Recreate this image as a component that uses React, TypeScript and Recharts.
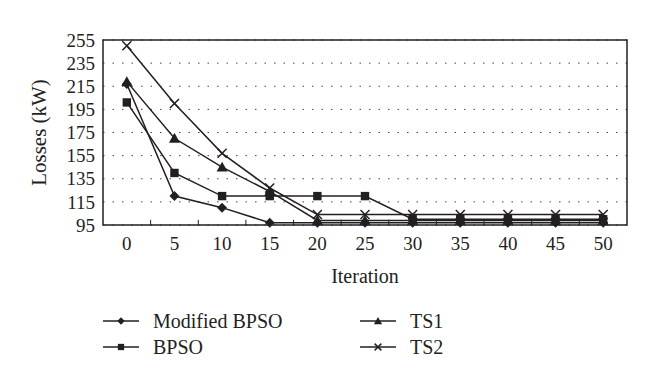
import React from 'react';
import { LineChart, Line, XAxis, YAxis, CartesianGrid, ReferenceArea, ReferenceLine } from 'recharts';

const iterations = [0, 5, 10, 15, 20, 25, 30, 35, 40, 45, 50];
const modifiedBpso = [217, 120, 110, 97, 97, 97, 97, 97, 97, 97, 97];
const bpso = [201, 140, 120, 120, 120, 120, 100, 100, 100, 100, 100];
const ts1 = [219, 170, 145, 124, 99, 99, 99, 99, 99, 99, 99];
const ts2 = [250, 200, 157, 127, 104, 104, 104, 104, 104, 104, 104];
const yTicks = [95, 115, 135, 155, 175, 195, 215, 235, 255];
const bandEdges = [2.5, 7.5, 12.5, 17.5, 22.5, 27.5, 32.5, 37.5, 42.5, 47.5];

const data = iterations.map((it, i) => ({
  iteration: it,
  modifiedBpso: modifiedBpso[i],
  bpso: bpso[i],
  ts1: ts1[i],
  ts2: ts2[i],
}));

const INK = '#231f20';
const FONT = "'Times New Roman', 'Liberation Serif', serif";

type Shape = 'diamond' | 'square' | 'triangle' | 'cross';

function Marker({ shape, cx, cy, s = 1 }: { shape: Shape; cx: number; cy: number; s?: number }) {
  if (shape === 'diamond') {
    const r = 5 * s;
    return <polygon points={`${cx},${cy - r} ${cx + r},${cy} ${cx},${cy + r} ${cx - r},${cy}`} fill={INK} />;
  }
  if (shape === 'square') {
    const r = 4.2 * s;
    return <rect x={cx - r} y={cy - r} width={2 * r} height={2 * r} fill={INK} />;
  }
  if (shape === 'triangle') {
    const r = 5.5 * s;
    return <polygon points={`${cx},${cy - r} ${cx + r},${cy + r * 0.8} ${cx - r},${cy + r * 0.8}`} fill={INK} />;
  }
  const r = 4.5 * s;
  return (
    <g stroke={INK} strokeWidth={1.5}>
      <line x1={cx - r} y1={cy - r} x2={cx + r} y2={cy + r} />
      <line x1={cx - r} y1={cy + r} x2={cx + r} y2={cy - r} />
    </g>
  );
}

const dot = (shape: Shape) => (props: any) => (
  <g key={`${shape}-${props.index}`}>
    <Marker shape={shape} cx={props.cx} cy={props.cy} />
  </g>
);

const series: { key: string; name: string; shape: Shape }[] = [
  { key: 'modifiedBpso', name: 'Modified BPSO', shape: 'diamond' },
  { key: 'bpso', name: 'BPSO', shape: 'square' },
  { key: 'ts1', name: 'TS1', shape: 'triangle' },
  { key: 'ts2', name: 'TS2', shape: 'cross' },
];

const textStyle = { fontFamily: FONT, fill: INK };

function YLabel({ viewBox }: any) {
  const cy = viewBox.y + viewBox.height / 2;
  return (
    <text x={46} y={cy} transform={`rotate(-90 46 ${cy})`} textAnchor="middle" fontSize={21} style={textStyle}>
      Losses (kW)
    </text>
  );
}

function LegendBox() {
  const cols = [103, 360];
  const rows = [21, 47];
  const order = [0, 2, 1, 3];
  return (
    <svg width={660} height={80} viewBox="0 0 660 80">
      {series.map((s, i) => {
        const pos = order.indexOf(i);
        const x = cols[pos % 2];
        const y = rows[Math.floor(pos / 2)];
        return (
          <g key={s.key}>
            <line x1={x} y1={y} x2={x + 36} y2={y} stroke={INK} strokeWidth={1.5} />
            <Marker shape={s.shape} cx={x + 18} cy={y} s={0.75} />
            <text x={x + 50} y={y} dominantBaseline="central" fontSize={20} style={textStyle}>
              {s.name}
            </text>
          </g>
        );
      })}
    </svg>
  );
}

export default function App() {
  return (
    <div style={{ position: 'absolute', left: 0, top: 0, width: 660, height: 386, background: '#fff' }}>
      <LineChart
        width={660}
        height={386}
        data={data}
        margin={{ top: 40, right: 33, left: 43, bottom: 101 }}
      >
        <CartesianGrid vertical={false} stroke="#444" strokeDasharray="1.5 8" />
        <XAxis
          dataKey="iteration"
          type="number"
          domain={[-2.5, 52.5]}
          ticks={iterations}
          tickLine={false}
          axisLine={false}
          tick={{ fontSize: 19, ...textStyle }}
          tickMargin={6}
          height={60}
          label={{ value: 'Iteration', position: 'insideBottom', offset: 2, fontSize: 20, style: textStyle }}
        />
        <YAxis
          type="number"
          domain={[95, 255]}
          ticks={yTicks}
          interval={0}
          tickLine={false}
          axisLine={false}
          tick={{ fontSize: 19, ...textStyle }}
          width={60}
          label={<YLabel />}
        />
        {bandEdges.map((e) => (
          <ReferenceLine
            key={e}
            segment={[{ x: e, y: 95 }, { x: e, y: 99.5 }]}
            stroke={INK}
            strokeWidth={1}
            ifOverflow="visible"
          />
        ))}
        <ReferenceArea x1={-2.5} x2={52.5} y1={95} y2={255} fill="none" stroke={INK} strokeWidth={1.5} ifOverflow="visible" />
        {series.map((s) => (
          <Line
            key={s.key}
            dataKey={s.key}
            name={s.name}
            type="linear"
            stroke={INK}
            strokeWidth={1.5}
            dot={dot(s.shape)}
            activeDot={false}
            isAnimationActive={false}
          />
        ))}
      </LineChart>
      <div style={{ position: 'absolute', left: 0, top: 300 }}>
        <LegendBox />
      </div>
    </div>
  );
}
